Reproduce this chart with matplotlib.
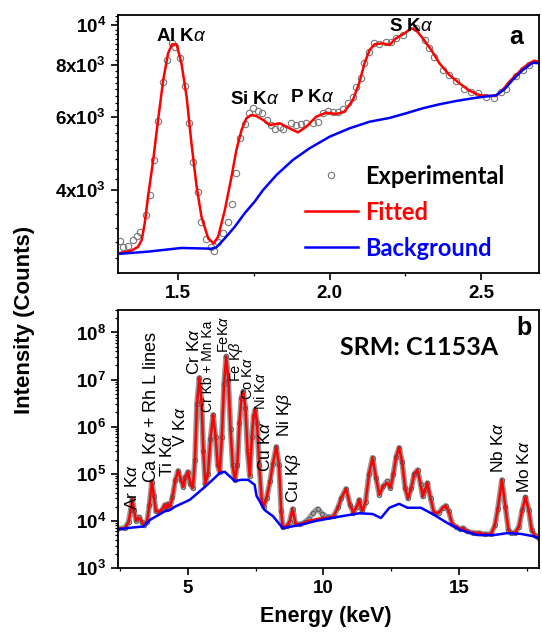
import matplotlib
matplotlib.use('Agg')
import matplotlib.pyplot as plt
import numpy as np
from matplotlib.ticker import (FixedLocator, FuncFormatter, MultipleLocator,
                               FormatStrFormatter, LogLocator, NullFormatter)

# ---- panel a : low energy region (keV, counts) ----
exp_a_E = [1.309, 1.320, 1.337, 1.353, 1.364, 1.377, 1.394, 1.408, 1.422, 1.435,
           1.450, 1.463, 1.481, 1.490, 1.507, 1.523, 1.536, 1.550, 1.565, 1.576,
           1.592, 1.609, 1.619, 1.633, 1.649, 1.665, 1.679, 1.693, 1.706, 1.720,
           1.734, 1.748, 1.764, 1.779, 1.794, 1.808, 1.819, 1.836, 1.846, 1.874,
           1.890, 1.907, 1.923, 1.945, 1.962, 1.978, 1.994, 2.011, 2.027, 2.044,
           2.060, 2.077, 2.088, 2.104, 2.115, 2.129, 2.145, 2.164, 2.187, 2.203,
           2.219, 2.241, 2.285, 2.313, 2.329, 2.345, 2.373, 2.395, 2.417, 2.444,
           2.466, 2.488, 2.515, 2.543, 2.565, 2.581, 2.614, 2.636, 2.658]
exp_a_I = [3016, 2910, 2930, 3040, 3094, 3170, 3484, 3894, 4728, 5870,
           7300, 8233, 9035, 8867, 8313, 7129, 5815, 4684, 3966, 3357,
           3045, 2920, 2860, 3005, 3160, 3357, 3698, 4406, 5333, 5774,
           6150, 6300, 6216, 6148, 5904, 5741, 5605, 5687, 5605, 5800,
           5741, 5764, 5818, 5800, 5830, 6127, 6206, 6182, 6182, 6265,
           6477, 6718, 7101, 7439, 8085, 8595, 9035, 9000, 9087, 9110,
           9290, 9461, 9818, 9203, 8788, 8387, 7788, 7577, 7340, 6999,
           6907, 6845, 6718, 6660, 6907, 6999, 7533, 7788, 8012]

fit_a_E = [1.302, 1.348, 1.369, 1.381, 1.391, 1.402, 1.419, 1.435, 1.452, 1.468,
           1.481, 1.496, 1.512, 1.529, 1.545, 1.562, 1.578, 1.600, 1.618, 1.633,
           1.655, 1.677, 1.693, 1.710, 1.726, 1.742, 1.759, 1.781, 1.803, 1.836,
           1.868, 1.896, 1.923, 1.956, 1.989, 2.022, 2.049, 2.077, 2.099, 2.115,
           2.132, 2.148, 2.175, 2.197, 2.219, 2.247, 2.269, 2.285, 2.307, 2.335,
           2.362, 2.395, 2.428, 2.461, 2.493, 2.526, 2.548, 2.570, 2.592, 2.614,
           2.636, 2.658, 2.674, 2.691]
fit_a_I = [2815, 2862, 2920, 3030, 3327, 3857, 4728, 5904, 7370, 8548,
           8985, 8985, 8085, 6718, 5187, 4077, 3451, 3061, 2975, 3090,
           3582, 4309, 4997, 5583, 5960, 6070, 6037, 5904, 5741, 5796,
           5637, 5512, 5687, 6013, 6148, 6103, 6182, 6597, 7300, 8085,
           8706, 8985, 9035, 8951, 9289, 9550, 9818, 9727, 9289, 8706,
           8085, 7577, 7236, 6945, 6781, 6744, 6744, 6972, 7300, 7577,
           7863, 8085, 8203, 8165]

bg_a_E = [1.302, 1.402, 1.512, 1.611, 1.627, 1.655, 1.688, 1.720, 1.753, 1.781,
          1.825, 1.879, 1.934, 2.000, 2.066, 2.132, 2.197, 2.252, 2.307, 2.362,
          2.417, 2.471, 2.526, 2.548, 2.576, 2.603, 2.636, 2.669, 2.691]
bg_a_I = [2807, 2843, 2902, 2890, 2911, 3061, 3266, 3516, 3751, 4003,
          4350, 4728, 5045, 5380, 5637, 5848, 5970, 6127, 6300, 6441,
          6560, 6659, 6744, 6770, 6999, 7370, 7788, 8110, 8090]

lines_a = ['Al K$\\alpha$', 'Si K$\\alpha$', 'P K$\\alpha$', 'S K$\\alpha$']
lines_a_E = [1.513, 1.753, 1.944, 2.27]
lines_a_I = [9408, 6597, 6686, 9906]

# ---- panel b : full spectrum ----
fit_b_E = [2.39, 2.68, 2.81, 2.89, 2.95, 3.01, 3.09, 3.20, 3.30, 3.39,
           3.49, 3.58, 3.67, 3.74, 3.82, 3.93, 4.04, 4.15, 4.21, 4.26,
           4.34, 4.43, 4.54, 4.64, 4.74, 4.83, 4.91, 5.00, 5.09, 5.18,
           5.26, 5.33, 5.42, 5.50, 5.57, 5.64, 5.74, 5.83, 5.93, 6.02,
           6.10, 6.17, 6.25, 6.33, 6.41, 6.49, 6.57, 6.65, 6.73, 6.82,
           6.90, 6.97, 7.04, 7.12, 7.20, 7.28, 7.36, 7.42, 7.48, 7.55,
           7.63, 7.72, 7.79, 7.90, 8.03, 8.13, 8.26, 8.36, 8.44, 8.50,
           8.64, 8.75, 8.86, 8.97, 9.12, 9.30, 9.45, 9.63, 9.78, 9.96,
           10.15, 10.37, 10.55, 10.65, 10.83, 10.98, 11.10, 11.23, 11.32, 11.43,
           11.55, 11.68, 11.81, 11.94, 12.06, 12.21, 12.36, 12.47, 12.58, 12.68,
           12.79, 12.90, 13.01, 13.12, 13.24, 13.35, 13.47, 13.58, 13.66, 13.75,
           13.83, 13.95, 14.08, 14.26, 14.40, 14.51, 14.62, 14.75, 14.90, 15.02,
           15.15, 15.30, 15.50, 15.74, 15.96, 16.18, 16.32, 16.43, 16.58, 16.71,
           16.82, 16.91, 17.06, 17.21, 17.33, 17.45, 17.57, 17.68, 17.79, 17.94]
fit_b_I = [6.8e3, 7.1e3, 9.5e3, 1.7e4, 2.9e4, 1.7e4, 1.0e4, 1.16e4, 9.5e3, 8.0e3,
           9.5e3, 2.2e4, 6.8e4, 3.4e4, 1.6e4, 1.55e4, 1.7e4, 2.2e4, 1.8e4, 2.3e4,
           2.0e4, 3.2e4, 7.5e4, 1.16e5, 7.5e4, 5.3e4, 8.6e4, 1.1e5, 6.1e4, 5.0e4,
           2.0e5, 3.0e6, 1.1e7, 3.5e6, 3.0e5, 6.0e4, 1.0e5, 5.5e5, 1.8e6, 6.0e5,
           1.5e5, 1.1e5, 6.0e5, 8.0e6, 3.1e7, 1.0e7, 9.0e5, 1.5e5, 7.5e4, 1.5e5,
           1.2e6, 4.0e6, 5.6e6, 2.5e6, 3.0e5, 9.0e4, 6.0e5, 1.7e6, 2.3e6, 1.2e6,
           1.5e5, 2.8e4, 2.0e4, 3.0e4, 7.0e4, 1.6e5, 3.75e5, 1.5e5, 1.6e4, 7.3e3,
           7.8e3, 9.5e3, 1.8e4, 8.6e3, 8.4e3, 9.3e3, 1.0e4, 1.05e4, 1.1e4, 1.15e4,
           1.15e4, 1.25e4, 2.0e4, 3.0e4, 4.8e4, 2.2e4, 1.5e4, 2.0e4, 2.8e4, 1.6e4,
           2.5e4, 1.0e5, 2.2e5, 8.0e4, 3.6e4, 5.5e4, 6.4e4, 5.0e4, 1.0e5, 2.3e5,
           3.6e5, 1.8e5, 5.0e4, 3.0e4, 5.0e4, 1.0e5, 1.2e5, 6.0e4, 3.3e4, 4.5e4,
           6.4e4, 3.0e4, 1.45e4, 1.5e4, 1.9e4, 2.1e4, 1.6e4, 8.5e3, 7.5e3, 6.8e3,
           7.0e3, 6.0e3, 5.6e3, 5.5e3, 5.2e3, 5.3e3, 8.0e3, 1.8e4, 7.4e4, 2.0e4,
           6.5e3, 5.6e3, 5.6e3, 7.5e3, 1.7e4, 3.2e4, 1.7e4, 6.4e3, 4.9e3, 4.3e3]

# experimental points follow the fit except round 10 keV and 12.4 keV
exp_b_E = fit_b_E
exp_b_I = [6.8e3, 7.1e3, 9.5e3, 1.7e4, 2.9e4, 1.7e4, 1.0e4, 1.2e4, 9.5e3, 8.0e3,
           9.5e3, 2.2e4, 6.8e4, 3.4e4, 1.6e4, 1.55e4, 1.7e4, 2.2e4, 1.8e4, 2.3e4,
           2.0e4, 3.2e4, 7.5e4, 1.16e5, 7.5e4, 5.3e4, 8.6e4, 1.1e5, 6.1e4, 5.0e4,
           2.0e5, 3.0e6, 1.1e7, 3.5e6, 3.0e5, 6.0e4, 1.0e5, 5.5e5, 1.8e6, 6.0e5,
           1.5e5, 1.1e5, 6.0e5, 8.0e6, 3.1e7, 1.0e7, 9.0e5, 1.5e5, 7.5e4, 1.5e5,
           1.2e6, 4.0e6, 5.6e6, 2.5e6, 3.0e5, 9.0e4, 6.0e5, 1.7e6, 2.3e6, 1.2e6,
           1.5e5, 2.8e4, 2.0e4, 3.0e4, 7.0e4, 1.6e5, 3.75e5, 1.5e5, 1.6e4, 7.3e3,
           7.8e3, 9.5e3, 1.8e4, 8.6e3, 8.4e3, 9.3e3, 1.1e4, 1.5e4, 1.8e4, 1.4e4,
           1.2e4, 1.25e4, 2.0e4, 3.0e4, 4.8e4, 2.2e4, 1.5e4, 2.0e4, 2.8e4, 1.6e4,
           2.5e4, 1.0e5, 2.2e5, 8.0e4, 3.6e4, 5.5e4, 7.0e4, 5.0e4, 1.0e5, 2.3e5,
           3.6e5, 1.8e5, 5.0e4, 3.0e4, 5.0e4, 1.0e5, 1.2e5, 6.0e4, 3.3e4, 4.5e4,
           6.4e4, 3.0e4, 1.45e4, 1.5e4, 1.9e4, 2.1e4, 1.6e4, 8.5e3, 7.5e3, 6.8e3,
           7.0e3, 6.0e3, 5.6e3, 5.5e3, 5.2e3, 5.3e3, 8.0e3, 1.8e4, 7.4e4, 2.0e4,
           6.5e3, 5.6e3, 5.6e3, 7.5e3, 1.7e4, 3.2e4, 1.7e4, 6.4e3, 4.9e3, 4.3e3]

bg_b_E = [2.38, 2.93, 3.36, 3.60, 4.15, 4.34, 4.52, 5.07, 5.63, 5.99,
          6.18, 6.36, 6.48, 6.73, 6.97, 7.22, 7.46, 7.53, 7.83, 8.14,
          8.50, 9.12, 9.73, 10.47, 11.32, 11.81, 12.12, 12.43, 12.79, 13.10,
          13.59, 14.08, 14.57, 15.06, 15.67, 16.29, 16.78, 17.27, 17.76, 18.0]
bg_b_I = [6.6e3, 7.2e3, 7.6e3, 1.05e4, 1.6e4, 1.7e4, 2.0e4, 2.8e4, 5.3e4, 8.2e4,
          1.05e5, 1.1e5, 9.5e4, 7.0e4, 7.45e4, 7.45e4, 5.84e4, 3.4e4, 1.7e4, 1.25e4,
          7.0e3, 8.2e3, 1.0e4, 1.2e4, 1.45e4, 1.4e4, 1.15e4, 1.9e4, 2.3e4, 1.9e4,
          1.9e4, 1.34e4, 9.0e3, 6.4e3, 5.0e3, 5.0e3, 5.5e3, 5.3e3, 4.7e3, 4.1e3]

lines_b = ['Ar K$\\alpha$', 'Ca K$\\alpha$ + Rh L lines', 'Ti K$\\alpha$', 'V K$\\alpha$',
           'Cr K$\\alpha$', 'Cr Kb + Mn Ka', 'FeK$\\alpha$', 'Fe K$\\beta$',
           'Co K$\\alpha$', 'Ni K$\\alpha$', 'Cu K$\\alpha$', 'Ni K$\\beta$',
           'Cu K$\\beta$', 'Nb K$\\alpha$', 'Mo K$\\alpha$']
lines_b_E = [2.94, 3.66, 4.23, 4.71, 5.22, 5.74, 6.33, 6.77,
             7.20, 7.69, 7.83, 8.57, 8.90, 16.45, 17.39]
lines_b_I = [1.7e4, 6.4e4, 8.6e4, 3.75e5, 1.28e7, 2.0e6, 3.75e7, 9.0e6,
             3.75e6, 2.3e6, 1.1e5, 6.1e5, 2.4e4, 1.05e5, 3.9e4]
lines_b_size = [12.5, 13, 12.5, 12.5, 12.5, 10, 10.5, 10.5,
                10.5, 10.5, 12.5, 12.5, 12.5, 12.5, 12.5]

plt.rcParams['font.family'] = ['Liberation Sans', 'DejaVu Sans']
plt.rcParams['mathtext.fontset'] = 'custom'
plt.rcParams['mathtext.rm'] = 'Liberation Sans'
plt.rcParams['mathtext.it'] = 'Liberation Sans:italic'
plt.rcParams['mathtext.bf'] = 'Liberation Sans:bold'

fig = plt.figure(figsize=(5.42, 6.32), dpi=100)
ax1 = fig.add_axes([0.2177, 0.568, 0.7768, 0.4082])
ax2 = fig.add_axes([0.2177, 0.1013, 0.7768, 0.4082])

grey = '#777777'

# panel a
ax1.plot(exp_a_E, exp_a_I, 'o', ms=4.6, mfc='none', mec=grey, mew=0.8, label='Experimental')
ax1.plot(fit_a_E, fit_a_I, color='red', lw=1.8, label='Fitted')
ax1.plot(bg_a_E, bg_a_I, color='blue', lw=1.8, label='Background')
ax1.set_yscale('log')
ax1.set_xlim(1.303, 2.69)
ax1.set_ylim(2525, 10570)

a_labels = {4000: r'$\mathbf{4x10^3}$', 6000: r'$\mathbf{6x10^3}$',
            8000: r'$\mathbf{8x10^3}$', 10000: r'$\mathbf{10^4}$'}
ax1.yaxis.set_major_locator(FixedLocator(list(a_labels.keys())))
ax1.yaxis.set_major_formatter(FuncFormatter(lambda v, p: a_labels.get(int(round(v)), '')))
ax1.yaxis.set_minor_locator(FixedLocator(np.arange(2750, 10600, 250)))
ax1.yaxis.set_minor_formatter(NullFormatter())
ax1.xaxis.set_major_locator(MultipleLocator(0.5))
ax1.xaxis.set_minor_locator(MultipleLocator(0.25))
ax1.xaxis.set_major_formatter(FormatStrFormatter('%.1f'))

for txt, e, i in zip(lines_a, lines_a_E, lines_a_I):
    ax1.text(e, i, txt, ha='center', va='center', fontsize=13.5, fontweight='bold')
ax1.text(0.945, 0.915, 'a', transform=ax1.transAxes, ha='center', va='center',
         fontsize=18, fontweight='bold')

leg = ax1.legend(loc='upper left', bbox_to_anchor=(0.444, 0.42), frameon=False,
                 prop={'family': 'Lato', 'weight': 'bold', 'size': 17},
                 labelcolor=['black', 'red', 'blue'], handlelength=2.25,
                 handletextpad=0.3, labelspacing=0.55, borderpad=0, borderaxespad=0)

# panel b
ax2.plot(exp_b_E, exp_b_I, color='#9a9a9a', lw=4.0, solid_joinstyle='round')
ax2.plot(exp_b_E, exp_b_I, 'o', ms=3.2, mfc='none', mec='#555555', mew=0.6)
ax2.plot(fit_b_E, fit_b_I, color='red', lw=1.8)
ax2.plot(bg_b_E, bg_b_I, color='blue', lw=1.8)
ax2.set_yscale('log')
ax2.set_xlim(2.42, 17.95)
ax2.set_ylim(1e3, 3e8)
ax2.yaxis.set_major_locator(LogLocator(base=10, numticks=12))
ax2.yaxis.set_major_formatter(FuncFormatter(lambda v, p: r'$\mathbf{10^{%d}}$' % round(np.log10(v))))
ax2.yaxis.set_minor_locator(LogLocator(base=10, subs=np.arange(2, 10), numticks=12))
ax2.yaxis.set_minor_formatter(NullFormatter())
ax2.xaxis.set_major_locator(MultipleLocator(5))
ax2.xaxis.set_minor_locator(MultipleLocator(2.5))

for txt, e, i, fs in zip(lines_b, lines_b_E, lines_b_I, lines_b_size):
    ax2.text(e, i, txt, rotation=90, ha='center', va='bottom', fontsize=fs)
ax2.text(0.715, 0.853, 'SRM: C1153A', transform=ax2.transAxes, ha='center', va='center',
         fontsize=18, fontweight='bold', family='Lato')
ax2.text(0.965, 0.93, 'b', transform=ax2.transAxes, ha='center', va='center',
         fontsize=18, fontweight='bold')

for ax in (ax1, ax2):
    for sp in ax.spines.values():
        sp.set_linewidth(1.3)
    ax.tick_params(which='major', direction='out', length=5, width=1.2, labelsize=13.5)
    ax.tick_params(which='minor', direction='out', length=2.5, width=0.9)
    for lab in ax.get_xticklabels() + ax.get_yticklabels():
        lab.set_fontweight('bold')

fig.text(0.045, 0.494, 'Intensity (Counts)', rotation=90, ha='center', va='center',
         fontsize=16, fontweight='bold')
fig.text(0.602, 0.024, 'Energy (keV)', ha='center', va='center', fontsize=15.5, fontweight='bold')

fig.savefig('out.png', dpi=100)
